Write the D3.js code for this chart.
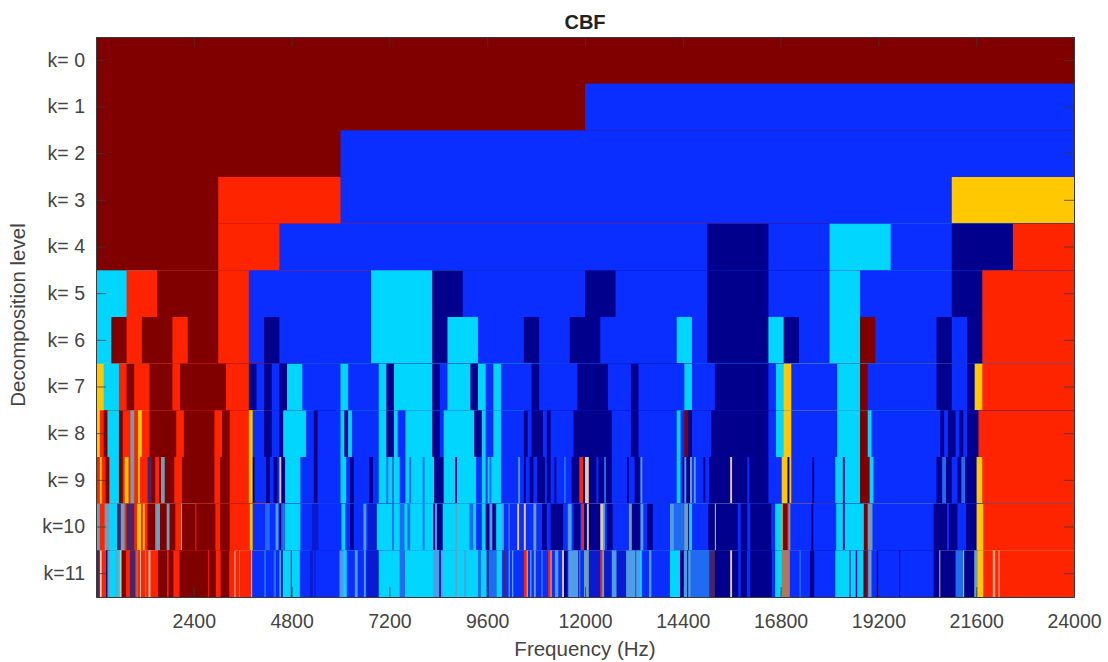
<!DOCTYPE html>
<html>
<head>
<meta charset="utf-8">
<script src="https://d3js.org/d3.v7.min.js"></script>
<style>
  html, body { margin: 0; padding: 0; background: #fff; }
  text { font-family: "Liberation Sans", Arial, sans-serif; }
</style>
</head>
<body>
<div id="graph"></div>
<script>
// colour categories used in the cells
const N = 0, B = 1, C = 2, Y = 3, R = 4, D = 5, G = 6, P = 7, W = 8, M = 9, T = 10, L = 11, E = 12;
const cellColors = ['#00008c', '#0a2eff', '#00d6ff', '#ffc800', '#ff2400', '#800000',
  '#6f9fb8', '#4a2468', '#e0c8a8', '#1f6cf0', '#b0785a', '#4f9ce8', '#0a1ad0'];

const levelLabels = ['k= 0', 'k= 1', 'k= 2', 'k= 3', 'k= 4', 'k= 5', 'k= 6', 'k= 7', 'k= 8', 'k= 9', 'k=10', 'k=11'];
const freqTicks = [2400, 4800, 7200, 9600, 12000, 14400, 16800, 19200, 21600, 24000];
const maxFreq = 24000;

// each level: [first cell of the run, colour]. level k has 2^k cells
const k0 = [[0, D]];
const k1 = [[0, D], [1, B]];
const k2 = [[0, D], [1, B]];
const k3 = [[0, D], [1, R], [2, B], [7, Y]];
const k4 = [[0, D], [2, R], [3, B], [10, N], [11, B], [12, C], [13, B], [14, N], [15, R]];
const k5 = [[0, C], [1, R], [2, D], [4, R], [5, B], [9, C], [11, N], [12, B], [16, N], [17, B], [20, N], [22, B],
  [24, C], [25, B], [28, N], [29, R]];
const k6 = [[0, C], [1, D], [2, R], [3, D], [5, R], [6, D], [8, R], [10, B], [11, N], [12, B], [18, C], [22, N],
  [23, C], [25, B], [28, N], [29, B], [31, N], [33, B], [38, C], [39, B], [40, N], [44, C], [45, N], [46, B],
  [48, C], [50, D], [51, B], [55, N], [56, B], [57, N], [58, R]];
const k7 = [[0, Y], [1, C], [3, R], [4, D], [5, R], [7, D], [10, R], [11, D], [17, R], [20, N], [21, B], [22, N],
  [23, B], [24, N], [25, C], [27, B], [32, C], [33, B], [37, C], [38, N], [39, C], [44, N], [45, B], [46, C],
  [49, N], [50, C], [51, B], [52, C], [53, B], [57, N], [58, B], [63, N], [67, B], [70, N], [71, B], [77, C],
  [78, B], [81, N], [88, B], [89, C], [90, Y], [91, B], [97, C], [100, D], [101, B], [110, N], [112, B], [114, N],
  [115, Y], [116, R]];
const k8 = [[0, Y], [1, R], [2, D], [3, C], [6, D], [7, R], [9, G], [10, R], [11, Y], [12, R], [14, D], [21, R],
  [23, D], [31, R], [33, D], [35, R], [40, Y], [41, B], [44, N], [46, B], [48, N], [49, C], [55, B], [57, N],
  [58, B], [64, C], [65, N], [66, C], [67, B], [74, C], [76, N], [78, C], [79, B], [81, C], [88, N], [90, B],
  [91, C], [99, N], [101, C], [102, B], [104, C], [106, B], [112, N], [113, B], [114, N], [117, B], [118, N],
  [119, B], [125, N], [135, B], [140, N], [142, B], [152, C], [153, B], [154, D], [155, N], [156, B], [161, N],
  [176, B], [178, C], [180, Y], [182, B], [194, C], [200, D], [202, C], [203, B], [221, N], [222, B], [223, N],
  [225, B], [226, N], [227, B], [228, N], [231, R]];
const k9 = [[0, R], [2, Y], [3, R], [5, D], [7, C], [12, D], [14, R], [15, Y], [17, R], [18, G], [20, R], [22, Y],
  [23, R], [27, P], [29, D], [31, R], [33, D], [34, G], [36, D], [41, R], [45, D], [62, R], [65, D], [70, R],
  [80, Y], [82, N], [83, B], [89, N], [91, B], [93, N], [95, B], [96, W], [97, N], [99, C], [107, B], [114, N],
  [116, B], [128, C], [131, B], [133, N], [135, B], [143, N], [145, B], [148, C], [152, M], [153, C], [155, M],
  [156, C], [159, B], [162, C], [164, M], [165, C], [171, M], [172, C], [177, N], [182, C], [188, N], [189, C],
  [199, B], [202, C], [204, B], [205, C], [206, M], [207, C], [212, B], [221, L], [222, B], [224, N], [225, B],
  [227, N], [229, B], [231, N], [235, B], [236, N], [238, B], [240, N], [241, B], [245, M], [246, B], [249, N],
  [253, R], [255, N], [256, W], [258, N], [262, B], [263, N], [266, M], [267, N], [270, B], [278, N], [279, B],
  [282, N], [285, L], [286, B], [304, C], [306, B], [307, N], [308, L], [309, N], [311, G], [312, B], [313, L],
  [314, B], [318, N], [319, B], [321, N], [332, W], [333, N], [341, B], [342, N], [352, B], [359, Y], [362, N],
  [363, Y], [364, B], [375, N], [376, B], [387, C], [391, N], [392, C], [400, D], [405, C], [407, B], [440, N],
  [443, M], [445, N], [448, B], [451, N], [453, M], [455, N], [461, Y], [464, R]];
const k10 = [[0, G], [4, R], [9, G], [14, C], [22, P], [26, G], [30, R], [32, P], [40, R], [43, Y], [47, R], [49, Y],
  [51, R], [54, D], [62, G], [67, D], [74, G], [77, D], [83, R], [89, W], [90, D], [104, R], [105, D], [125, R],
  [130, D], [140, R], [161, Y], [164, B], [177, M], [182, B], [188, L], [191, B], [192, N], [194, M], [198, C],
  [214, B], [226, E], [233, B], [257, C], [261, B], [266, N], [270, B], [280, L], [283, B], [285, E], [294, C],
  [310, M], [312, C], [318, M], [323, C], [326, M], [329, C], [342, M], [344, C], [353, N], [355, L], [357, N],
  [363, C], [376, G], [378, C], [391, M], [395, C], [398, B], [404, C], [408, N], [412, L],
  [415, N], [419, C], [425, L], [427, B], [432, L], [433, B], [441, W], [443, B], [448, W], [450, B], [458, G],
  [461, B], [467, N], [472, B], [476, N], [489, B], [494, L], [498, B], [500, N], [507, B], [508, R], [511, N], [514, W],
  [516, N], [528, W], [531, L], [533, B], [535, N], [541, B], [558, G], [561, N], [570, L], [573, B], [577, N], [583, B],
  [601, L], [605, M], [616, G], [620, N], [621, C], [624, B], [641, N], [648, W], [649, N], [672, B], [675, N],
  [682, B], [685, N], [707, B], [711, C], [718, Y], [719, D], [724, R], [725, G], [727, B], [749, N], [751, B],
  [775, C], [782, N], [784, C], [803, G], [804, D], [808, G], [813, B], [877, N], [891, B], [893, N], [902, B],
  [911, N], [922, Y], [929, R]];
const k11 = [[0, P], [8, W], [12, R], [21, N], [24, G], [29, C], [42, G], [45, C], [50, W], [52, G], [54, D], [63, R], [71, P],
  [82, R], [85, G], [87, R], [92, W], [94, R], [103, G], [105, R], [110, W], [114, R], [130, D], [149, R], [152, D],
  [162, R], [175, D], [235, R], [237, D], [251, R], [261, D], [279, R], [290, W], [292, R], [300, W], [301, R],
  [325, W], [327, B], [352, M], [356, B], [372, M], [377, B], [384, L], [388, N], [391, C], [408, N], [410, C],
  [427, B], [448, E], [454, B], [457, E], [460, B], [510, L], [518, C], [525, B], [542, L], [548, B], [561, L],
  [565, B], [567, E], [592, C], [636, M], [647, C], [706, L], [719, N], [722, L], [726, C], [752, G], [756, C],
  [771, L], [775, C], [800, M], [806, C], [818, N], [822, M], [839, C], [850, B], [853, P], [857, B], [864, L],
  [867, B], [871, L], [874, B], [896, R], [902, W], [904, B], [909, L], [912, B], [917, G], [921, B], [933, L],
  [935, B], [947, R], [952, W], [954, B], [961, L], [968, B], [976, W], [980, N], [987, B], [989, L], [1010, N],
  [1012, L], [1014, B], [1022, G], [1032, E], [1056, R], [1060, G], [1064, E], [1080, L], [1090, E], [1110, L],
  [1130, N], [1131, L], [1139, C], [1143, B], [1158, L], [1163, B], [1202, C], [1223, N], [1231, L], [1238, N],
  [1240, L], [1245, M], [1284, P], [1296, N], [1328, W], [1332, N],
  [1345, B], [1350, N], [1363, B], [1370, N], [1415, B], [1422, C], [1436, T], [1453, B], [1473, M], [1476, B],
  [1495, N], [1504, B], [1548, C], [1578, N], [1580, C], [1591, N], [1594, C], [1607, D], [1614, B], [1617, G],
  [1624, B], [1635, N], [1638, B], [1682, N], [1684, B], [1754, N], [1766, W], [1768, N], [1800, M], [1816, W],
  [1818, N], [1839, G], [1846, Y], [1858, R], [1878, W], [1880, R], [1881, W], [1883, R], [1890, W], [1892, R]];
const levels = [k0, k1, k2, k3, k4, k5, k6, k7, k8, k9, k10, k11];

let margin = { top: 37, right: 34, bottom: 65, left: 96 },
  width = 1108 - margin.left - margin.right,
  height = 662 - margin.top - margin.bottom;

let xScale = d3.scaleLinear().domain([0, maxFreq]).range([0, width]);
let yScale = d3.scaleBand().domain(levelLabels).range([0, height]);

let svg = d3.select('#graph').append('svg')
  .attr('width', 1108)
  .attr('height', 662)
  .style('display', 'block');

let defs = svg.append('defs');
// the reference is a soft, resampled picture
defs.append('filter').attr('id', 'soft')
  .attr('x', 0).attr('y', 0).attr('width', 1).attr('height', 1)
  .attr('color-interpolation-filters', 'sRGB')
  .append('feGaussianBlur').attr('stdDeviation', 0.6);

let vis = svg.append('g')
  .attr('transform', 'translate(' + margin.left + ',' + margin.top + ')');

let cells = vis.append('g').attr('filter', 'url(#soft)');

levels.forEach((runs, k) => {
  let cellHz = maxFreq / Math.pow(2, k);
  let rowTop = yScale(levelLabels[k]);
  // runs are painted in order, each up to the right and bottom edge, so no seams show between them
  cells.append('g')
    .selectAll('rect')
    .data(runs)
    .join('rect')
    .attr('x', (d) => xScale(d[0] * cellHz))
    .attr('y', rowTop)
    .attr('width', (d) => xScale(maxFreq) - xScale(d[0] * cellHz))
    .attr('height', height - rowTop)
    .attr('fill', (d) => cellColors[d[1]]);
});

const tickLen = 10;
const textColor = '#444444';
const lineColor = '#3a3a3a';

let xAxis = d3.axisBottom(xScale).tickValues(freqTicks).tickFormat(d3.format('d')).tickSize(-tickLen).tickPadding(tickLen + 7);
let yAxis = d3.axisLeft(yScale).tickSize(-tickLen).tickPadding(tickLen + 1);
let xTop = d3.axisTop(xScale).tickValues(freqTicks).tickSize(-tickLen).tickFormat('');
let yRight = d3.axisRight(yScale).tickSize(-tickLen).tickFormat('');

function styleAxis(g) {
  g.selectAll('.domain').attr('stroke', lineColor).attr('stroke-width', 1);
  g.selectAll('.tick line').attr('stroke', lineColor).attr('stroke-opacity', 0.75);
  g.selectAll('.tick text').attr('fill', textColor).attr('font-size', 19.5);
}

vis.append('g').attr('transform', 'translate(0,' + height + ')').call(xAxis).call(styleAxis);
vis.append('g').call(yAxis).call(styleAxis);
vis.append('g').call(xTop).call(styleAxis);
vis.append('g').attr('transform', 'translate(' + width + ',0)').call(yRight).call(styleAxis);

svg.append('text')
  .attr('x', margin.left + width / 2)
  .attr('y', 29)
  .attr('text-anchor', 'middle')
  .attr('font-weight', 'bold')
  .attr('font-size', 20)
  .attr('fill', '#222222')
  .text('CBF');

svg.append('text')
  .attr('x', margin.left + width / 2)
  .attr('y', 656)
  .attr('text-anchor', 'middle')
  .attr('font-size', 20.5)
  .attr('fill', textColor)
  .text('Frequency (Hz)');

svg.append('text')
  .attr('transform', 'translate(25,' + (margin.top + height / 2 - 2) + ') rotate(-90)')
  .attr('text-anchor', 'middle')
  .attr('font-size', 20.5)
  .attr('fill', textColor)
  .text('Decomposition level');
</script>
</body>
</html>
